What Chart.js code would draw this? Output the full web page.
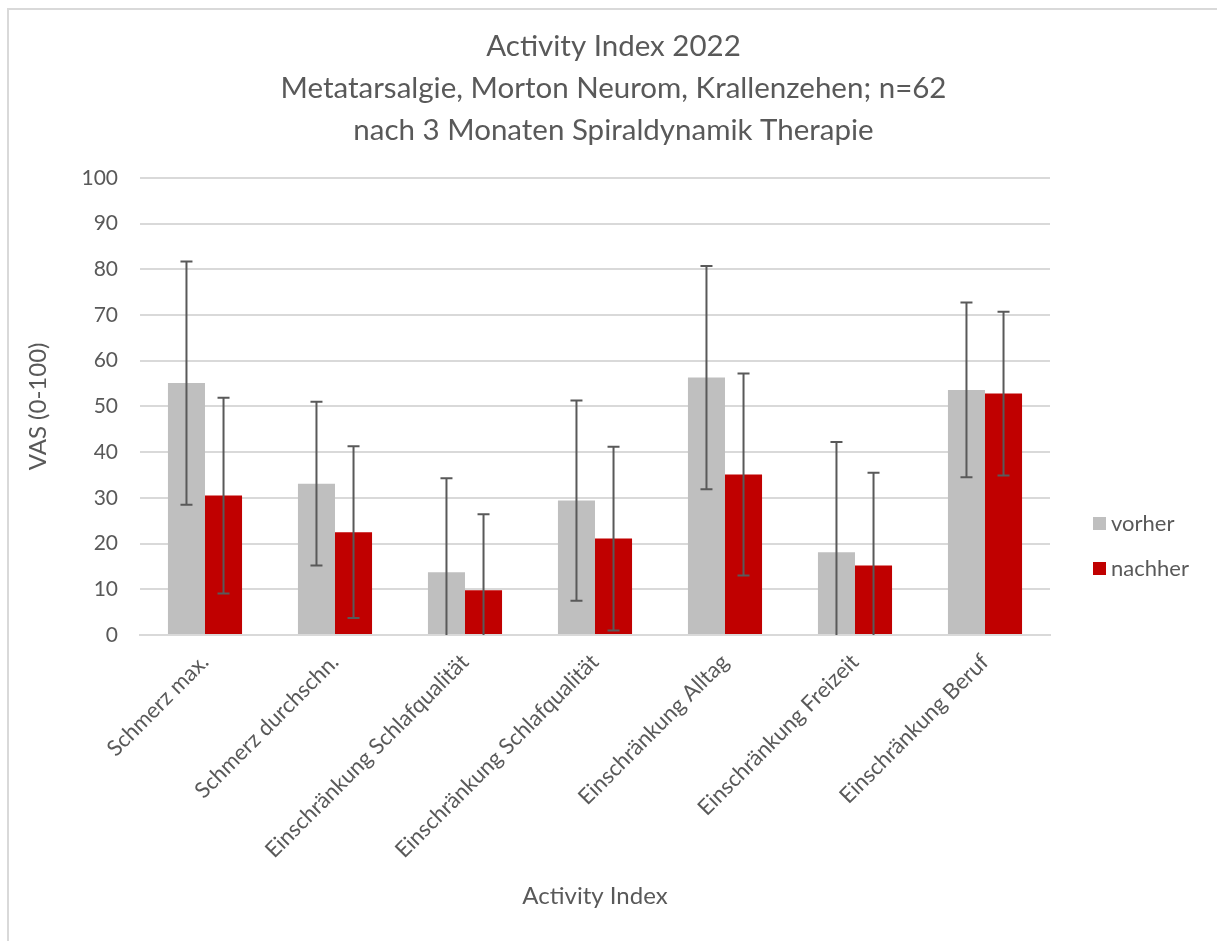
<!DOCTYPE html>
<html>
<head>
<meta charset="utf-8">
<script src="https://cdn.jsdelivr.net/npm/chart.js@4.4.1/dist/chart.umd.min.js"></script>
<style>
  body { margin: 0; background: #fff; }
  #wrap { position: relative; width: 1217px; height: 941px; }
  #frame { position: absolute; left: 7px; top: 8px; right: -5px; bottom: -5px;
           border-left: 2px solid #d9d9d9; border-top: 2px solid #d9d9d9; }
  canvas { position: absolute; left: 0; top: 0; }
</style>
</head>
<body>
<div id="wrap">
  <div id="frame"></div>
  <canvas id="myChart" width="1217" height="941"></canvas>
</div>
<script>
const categories = [
  'Schmerz max.',
  'Schmerz durchschn.',
  'Einschränkung Schlafqualität',
  'Einschränkung Schlafqualität',
  'Einschränkung Alltag',
  'Einschränkung Freizeit',
  'Einschränkung Beruf'
];
const vorher = [55.1, 33.1, 13.7, 29.4, 56.3, 18.1, 53.6];
const vorherSD = [26.6, 17.9, 20.6, 21.9, 24.4, 24.1, 19.1];
const nachher = [30.5, 22.5, 9.8, 21.1, 35.1, 15.2, 52.8];
const nachherSD = [21.4, 18.8, 16.6, 20.1, 22.1, 20.3, 17.9];

const textColor = '#595959';
const fontFamily = 'Lato, "Open Sans", sans-serif';

// Fehlerbalken (Standardabweichung) selbst zeichnen
const errorBars = {
  id: 'errorBars',
  afterDatasetsDraw(chart) {
    const ctx = chart.ctx;
    const y = chart.scales.y;
    const area = chart.chartArea;
    ctx.save();
    ctx.strokeStyle = '#595959';
    ctx.lineWidth = 2;
    chart.data.datasets.forEach((ds, i) => {
      const meta = chart.getDatasetMeta(i);
      meta.data.forEach((bar, j) => {
        const v = ds.data[j];
        const e = ds.errors[j];
        let top = y.getPixelForValue(v + e);
        let bottom = y.getPixelForValue(v - e);
        const capTop = top >= area.top && top <= area.bottom;
        const capBottom = bottom >= area.top && bottom <= area.bottom;
        top = Math.max(top, area.top);
        bottom = Math.min(bottom, area.bottom);
        ctx.beginPath();
        ctx.moveTo(bar.x, top);
        ctx.lineTo(bar.x, bottom);
        if (capTop) { ctx.moveTo(bar.x - 6, top); ctx.lineTo(bar.x + 6, top); }
        if (capBottom) { ctx.moveTo(bar.x - 6, bottom); ctx.lineTo(bar.x + 6, bottom); }
        ctx.stroke();
      });
    });
    ctx.restore();
  }
};

// Legende rechts, wie in Excel etwas unterhalb der Mitte
const sideLegend = {
  id: 'sideLegend',
  afterDraw(chart) {
    const ctx = chart.ctx;
    const x = chart.chartArea.right + 43;
    let y = 523;
    ctx.save();
    ctx.font = '22px ' + fontFamily;
    ctx.textBaseline = 'middle';
    chart.data.datasets.forEach((ds) => {
      ctx.fillStyle = ds.backgroundColor;
      ctx.fillRect(x, y - 6, 13, 13);
      ctx.fillStyle = textColor;
      ctx.fillText(ds.label, x + 18, y + 1);
      y += 45;
    });
    ctx.restore();
  }
};

var ctx = document.getElementById('myChart').getContext('2d');
var chart = new Chart(ctx, {
  type: 'bar',
  data: {
    labels: categories,
    datasets: [
      { label: 'vorher', data: vorher, errors: vorherSD, backgroundColor: '#bfbfbf' },
      { label: 'nachher', data: nachher, errors: nachherSD, backgroundColor: '#c00000' }
    ]
  },
  options: {
    responsive: false,
    animation: false,
    devicePixelRatio: 1,
    layout: { padding: { left: 20, top: 10, right: 10, bottom: 26 } },
    datasets: { bar: { barPercentage: 1, categoryPercentage: 0.57 } },
    plugins: {
      title: {
        display: true,
        text: ['Activity Index 2022', 'Metatarsalgie, Morton Neurom, Krallenzehen; n=62', 'nach 3 Monaten Spiraldynamik Therapie'],
        color: textColor,
        font: { family: fontFamily, size: 29.5, weight: 'normal', lineHeight: 1.41 },
        padding: { top: 16, bottom: 27 }
      },
      legend: { display: false },
      tooltip: { enabled: false }
    },
    scales: {
      x: {
        grid: { display: false },
        border: { color: '#d9d9d9', width: 2 },
        ticks: { color: textColor, font: { family: fontFamily, size: 22 }, minRotation: 45, maxRotation: 45, padding: 6 },
        title: { display: true, text: 'Activity Index', color: textColor, font: { family: fontFamily, size: 24 }, padding: { top: 4, bottom: 4 } },
        afterFit(scale) { scale.height = 280; }
      },
      y: {
        min: 0,
        max: 100,
        ticks: { stepSize: 10, color: textColor, font: { family: fontFamily, size: 21 }, padding: 22 },
        grid: { color: '#d9d9d9', lineWidth: 2, drawTicks: false },
        border: { display: false },
        title: { display: true, text: 'VAS (0-100)', color: textColor, font: { family: fontFamily, size: 24 }, padding: { top: 4, bottom: 4 } },
        afterFit(scale) { scale.width = 120; }
      },
      // leere Achse rechts: hält Platz für die Legende frei
      yRight: {
        position: 'right',
        grid: { display: false },
        border: { display: false },
        ticks: { display: false },
        afterFit(scale) { scale.width = 157; }
      }
    }
  },
  plugins: [errorBars, sideLegend]
});
</script>
</body>
</html>
